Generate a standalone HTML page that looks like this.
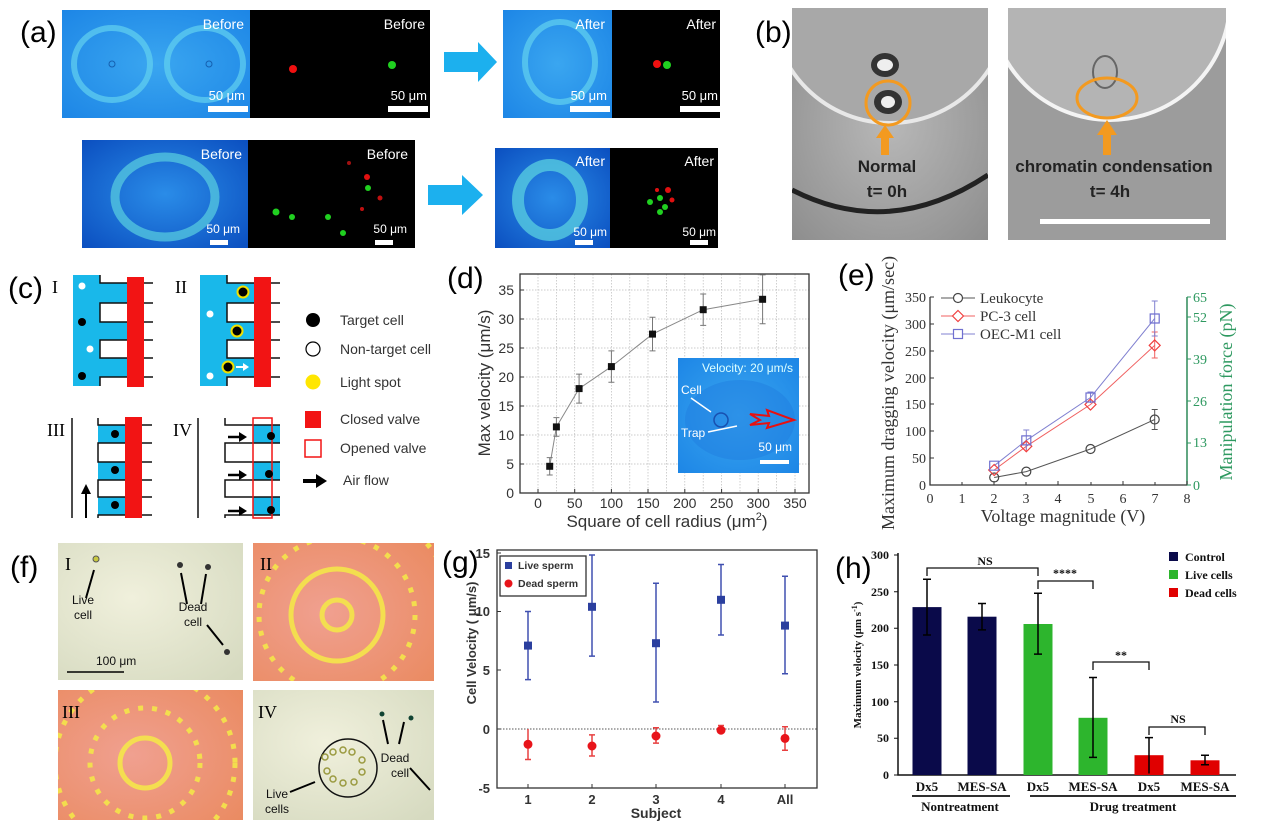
<!DOCTYPE html>
<html><head><meta charset="utf-8"><style>
html,body{margin:0;padding:0;background:#fff;}
svg{display:block;}
text{font-family:"Liberation Sans",sans-serif;}
.ser{font-family:"Liberation Serif",serif;}
</style></head><body>
<svg width="1269" height="831" viewBox="0 0 1269 831" xmlns="http://www.w3.org/2000/svg">
<defs>
<radialGradient id="blu" cx="0.5" cy="0.5" r="0.7"><stop offset="0" stop-color="#3aa6f0"/><stop offset="1" stop-color="#1d86e6"/></radialGradient>
<radialGradient id="blu2" cx="0.5" cy="0.5" r="0.7"><stop offset="0" stop-color="#2a8ce8"/><stop offset="1" stop-color="#0b4fc0"/></radialGradient>
<radialGradient id="gry" cx="0.5" cy="0.5" r="0.7"><stop offset="0" stop-color="#b8b8b8"/><stop offset="1" stop-color="#8e8e8e"/></radialGradient>
<radialGradient id="pale" cx="0.4" cy="0.4" r="0.8"><stop offset="0" stop-color="#f0f0dc"/><stop offset="1" stop-color="#d6dac0"/></radialGradient>
<radialGradient id="ora" cx="0.4" cy="0.5" r="0.8"><stop offset="0" stop-color="#f0a090"/><stop offset="1" stop-color="#ea8a60"/></radialGradient>
<clipPath id="cb1"><rect x="792" y="8" width="196" height="232"/></clipPath>
<clipPath id="cb2"><rect x="1008" y="8" width="218" height="232"/></clipPath>
<clipPath id="cf2"><rect x="253" y="543" width="181" height="138"/></clipPath>
<clipPath id="cf3"><rect x="58" y="690" width="185" height="130"/></clipPath>
</defs>

<!-- (a) -->
<text x="20" y="42" font-size="30">(a)</text>
<rect x="62" y="10" width="188" height="108" fill="url(#blu)"/>
<ellipse cx="112" cy="64" rx="38" ry="36" fill="none" stroke="#62d2f0" stroke-width="6" opacity="0.7"/>
<ellipse cx="205" cy="64" rx="38" ry="36" fill="none" stroke="#62d2f0" stroke-width="6" opacity="0.7"/>
<circle cx="112" cy="64" r="3" fill="none" stroke="#1560b0"/><circle cx="209" cy="64" r="3" fill="none" stroke="#1560b0"/>
<text x="244" y="29" font-size="14" fill="#fff" text-anchor="end">Before</text>
<text x="245" y="100" font-size="13" fill="#fff" text-anchor="end">50 μm</text>
<rect x="208" y="106" width="40" height="6" fill="#fff"/>
<rect x="250" y="10" width="180" height="108" fill="#000"/>
<circle cx="293" cy="69" r="4" fill="#f01010"/><circle cx="392" cy="65" r="4" fill="#20d020"/>
<text x="425" y="29" font-size="14" fill="#fff" text-anchor="end">Before</text>
<text x="427" y="100" font-size="13" fill="#fff" text-anchor="end">50 μm</text>
<rect x="388" y="106" width="40" height="6" fill="#fff"/>
<polygon points="444,52 478,52 478,42 497,62 478,82 478,72 444,72" fill="#1cb0ee"/>
<rect x="503" y="10" width="109" height="108" fill="url(#blu)"/>
<ellipse cx="560" cy="62" rx="35" ry="40" fill="none" stroke="#62d2f0" stroke-width="6" opacity="0.7"/>
<text x="605" y="29" font-size="14" fill="#fff" text-anchor="end">After</text>
<text x="607" y="100" font-size="13" fill="#fff" text-anchor="end">50 μm</text>
<rect x="570" y="106" width="40" height="6" fill="#fff"/>
<rect x="612" y="10" width="108" height="108" fill="#000"/>
<circle cx="657" cy="64" r="4" fill="#f01010"/><circle cx="667" cy="65" r="4" fill="#20d020"/>
<text x="716" y="29" font-size="14" fill="#fff" text-anchor="end">After</text>
<text x="718" y="100" font-size="13" fill="#fff" text-anchor="end">50 μm</text>
<rect x="680" y="106" width="40" height="6" fill="#fff"/>

<rect x="82" y="140" width="166" height="108" fill="url(#blu2)"/>
<ellipse cx="165" cy="197" rx="50" ry="40" fill="none" stroke="#5ad0e0" stroke-width="9" opacity="0.7"/>
<text x="242" y="159" font-size="14" fill="#fff" text-anchor="end">Before</text>
<text x="240" y="233" font-size="12" fill="#fff" text-anchor="end">50 μm</text>
<rect x="210" y="240" width="18" height="5" fill="#fff"/>
<rect x="248" y="140" width="167" height="108" fill="#000"/>
<circle cx="276" cy="212" r="3.5" fill="#20d020"/><circle cx="292" cy="217" r="3" fill="#20d020"/><circle cx="328" cy="217" r="3" fill="#20d020"/><circle cx="343" cy="233" r="3" fill="#20d020"/><circle cx="368" cy="188" r="3" fill="#20d020"/><circle cx="367" cy="177" r="3" fill="#e01010"/><circle cx="349" cy="163" r="2" fill="#a01010"/><circle cx="380" cy="198" r="2.5" fill="#c01010"/><circle cx="362" cy="209" r="2" fill="#c01010"/>
<text x="408" y="159" font-size="14" fill="#fff" text-anchor="end">Before</text>
<text x="407" y="233" font-size="12" fill="#fff" text-anchor="end">50 μm</text>
<rect x="375" y="240" width="18" height="5" fill="#fff"/>
<polygon points="428,185 462,185 462,175 483,195 462,215 462,205 428,205" fill="#1cb0ee"/>
<rect x="495" y="148" width="115" height="100" fill="url(#blu2)"/>
<ellipse cx="550" cy="200" rx="32" ry="35" fill="none" stroke="#5ad0e0" stroke-width="12" opacity="0.75"/>
<text x="605" y="166" font-size="14" fill="#fff" text-anchor="end">After</text>
<text x="607" y="236" font-size="12" fill="#fff" text-anchor="end">50 μm</text>
<rect x="575" y="240" width="18" height="5" fill="#fff"/>
<rect x="610" y="148" width="108" height="100" fill="#000"/>
<circle cx="650" cy="202" r="3" fill="#20d020"/><circle cx="660" cy="198" r="3" fill="#20d020"/><circle cx="665" cy="207" r="3" fill="#20d020"/><circle cx="660" cy="212" r="3" fill="#20d020"/><circle cx="668" cy="190" r="3" fill="#e01010"/><circle cx="672" cy="200" r="2.5" fill="#e01010"/><circle cx="657" cy="190" r="2" fill="#e01010"/>
<text x="714" y="166" font-size="14" fill="#fff" text-anchor="end">After</text>
<text x="716" y="236" font-size="12" fill="#fff" text-anchor="end">50 μm</text>
<rect x="690" y="240" width="18" height="5" fill="#fff"/>

<!-- (b) -->
<text x="755" y="42" font-size="30">(b)</text>
<g clip-path="url(#cb1)">
<rect x="792" y="8" width="196" height="232" fill="url(#gry)"/>
<circle cx="890" cy="5" r="118" fill="#a8a8a8" stroke="#e8e8e8" stroke-width="4"/>
<path d="M792,190 Q890,240 988,175" fill="none" stroke="#222" stroke-width="5"/>
</g>
<ellipse cx="885" cy="65" rx="14" ry="12" fill="#333"/><ellipse cx="885" cy="65" rx="8" ry="6" fill="#eee"/>
<ellipse cx="888" cy="102" rx="14" ry="12" fill="#333"/><ellipse cx="888" cy="102" rx="7" ry="6" fill="#eee"/>
<circle cx="888" cy="103" r="22" fill="none" stroke="#f39a20" stroke-width="3"/>
<polygon points="881,148 881,138 876,138 885,125 894,138 889,138 889,155 881,155" fill="#f39a20"/>
<text x="887" y="172" font-size="17" font-weight="bold" fill="#222" text-anchor="middle">Normal</text>
<text x="887" y="197" font-size="17" font-weight="bold" fill="#222" text-anchor="middle">t= 0h</text>
<g clip-path="url(#cb2)">
<rect x="1008" y="8" width="218" height="232" fill="#9c9c9c"/>
<circle cx="1110" cy="0" r="120" fill="#b4b4b4" stroke="#f4f4f4" stroke-width="4"/>
</g>
<ellipse cx="1105" cy="72" rx="12" ry="16" fill="none" stroke="#666" stroke-width="2"/>
<ellipse cx="1107" cy="98" rx="30" ry="20" fill="none" stroke="#f39a20" stroke-width="3"/>
<polygon points="1103,155 1103,135 1097,135 1107,120 1117,135 1111,135 1111,155" fill="#f39a20"/>
<text x="1114" y="172" font-size="17" font-weight="bold" fill="#222" text-anchor="middle">chromatin condensation</text>
<text x="1110" y="197" font-size="17" font-weight="bold" fill="#222" text-anchor="middle">t= 4h</text>
<rect x="1040" y="219" width="170" height="5" fill="#fff"/>

<!-- (c) -->
<text x="8" y="298" font-size="30">(c)</text>
<text x="52" y="293" font-size="18" class="ser">I</text>
<text x="175" y="293" font-size="18" class="ser">II</text>
<g id="diagI">
<rect x="73" y="275" width="27" height="111" fill="#19b8ea"/>
<rect x="100" y="283" width="27" height="20" fill="#19b8ea"/><rect x="100" y="322" width="27" height="18" fill="#19b8ea"/><rect x="100" y="358" width="27" height="19" fill="#19b8ea"/>
<path d="M100,275 V283 H153 M153,303 H100 V322 H153 M153,340 H100 V358 H153 M153,377 H100 V386" fill="none" stroke="#111" stroke-width="1.5"/>
<rect x="127" y="277" width="17" height="110" fill="#f21414"/>
</g>
<circle cx="82" cy="286" r="3.5" fill="#fff"/><circle cx="90" cy="349" r="3.5" fill="#fff"/><circle cx="82" cy="322" r="4" fill="#000"/><circle cx="82" cy="376" r="4" fill="#000"/>
<use href="#diagI" x="127"/>
<circle cx="210" cy="314" r="3.5" fill="#fff"/><circle cx="210" cy="376" r="3.5" fill="#fff"/>
<circle cx="243" cy="292" r="5.5" fill="#000" stroke="#f0e000" stroke-width="2"/><circle cx="237" cy="331" r="5.5" fill="#000" stroke="#f0e000" stroke-width="2"/><circle cx="228" cy="367" r="5.5" fill="#000" stroke="#f0e000" stroke-width="2"/>
<path d="M236,367 H244" stroke="#fff" stroke-width="2"/><polygon points="243,363 249,367 243,371" fill="#fff"/>
<circle cx="313" cy="320" r="7" fill="#000"/><circle cx="313" cy="349" r="7" fill="#fff" stroke="#000" stroke-width="1.2"/><circle cx="313" cy="382" r="7.5" fill="#ffe600"/>
<rect x="305" y="411" width="16" height="17" fill="#f21414"/><rect x="305" y="440" width="16" height="17" fill="none" stroke="#f21414" stroke-width="1.5"/>
<path d="M303,481 H318" stroke="#000" stroke-width="4"/><polygon points="316,474 327,481 316,488" fill="#000"/>
<g font-size="14" fill="#333"><text x="340" y="325">Target cell</text><text x="340" y="354">Non-target cell</text><text x="340" y="387">Light spot</text><text x="340" y="424">Closed valve</text><text x="340" y="453">Opened valve</text><text x="343" y="485">Air flow</text></g>
<text x="47" y="436" font-size="18" class="ser">III</text>
<text x="173" y="436" font-size="18" class="ser">IV</text>
<path d="M72,418 V518 M198,418 V518" stroke="#111" stroke-width="1.5"/>
<path d="M86,518 V492" stroke="#000" stroke-width="2"/><polygon points="81,494 86,484 91,494" fill="#000"/>
<rect x="98" y="425" width="27" height="18" fill="#19b8ea"/><rect x="98" y="462" width="27" height="18" fill="#19b8ea"/><rect x="98" y="497" width="27" height="18" fill="#19b8ea"/>
<path d="M98,418 V425 H152 M152,443 H98 V462 H152 M152,480 H98 V497 H152 M152,515 H98 V518" fill="none" stroke="#111" stroke-width="1.5"/>
<rect x="125" y="417" width="17" height="101" fill="#f21414"/>
<circle cx="115" cy="434" r="4" fill="#000"/><circle cx="115" cy="470" r="4" fill="#000"/><circle cx="115" cy="505" r="4" fill="#000"/>
<rect x="253" y="425" width="27" height="18" fill="#19b8ea"/><rect x="253" y="462" width="27" height="18" fill="#19b8ea"/><rect x="253" y="497" width="27" height="18" fill="#19b8ea"/>
<path d="M225,418 V425 H280 M280,443 H225 V462 H280 M280,480 H225 V497 H280 M280,515 H225 V518" fill="none" stroke="#111" stroke-width="1.5"/>
<rect x="253" y="418" width="19" height="100" fill="none" stroke="#f21414" stroke-width="1.5"/>
<circle cx="271" cy="436" r="4" fill="#000"/><circle cx="269" cy="474" r="4" fill="#000"/><circle cx="271" cy="510" r="4" fill="#000"/>
<g fill="#000"><path d="M228,437 H240" stroke="#000" stroke-width="2.5"/><polygon points="239,432 247,437 239,442"/><path d="M228,475 H240" stroke="#000" stroke-width="2.5"/><polygon points="239,470 247,475 239,480"/><path d="M228,511 H240" stroke="#000" stroke-width="2.5"/><polygon points="239,506 247,511 239,516"/></g>

<!-- (d) -->
<text x="447" y="288" font-size="30">(d)</text>
<g stroke="#bbb" stroke-width="0.7" stroke-dasharray="1.5,1.5">
<path d="M538,274V493 M556.4,274V493 M574.7,274V493 M593,274V493 M611.4,274V493 M629.8,274V493 M648,274V493 M666.5,274V493 M684.8,274V493 M703.2,274V493 M721.6,274V493 M740,274V493 M758.2,274V493 M776.6,274V493 M795,274V493"/>
<path d="M520,464H809 M520,435H809 M520,406H809 M520,377H809 M520,348H809 M520,319H809 M520,290H809"/>
</g>
<rect x="520" y="274" width="289" height="219" fill="none" stroke="#333" stroke-width="1.3"/>
<g stroke="#333" stroke-width="1">
<path d="M538,493v-4 M574.7,493v-4 M611.4,493v-4 M648,493v-4 M684.8,493v-4 M721.6,493v-4 M758.2,493v-4 M795,493v-4"/>
<path d="M520,464h4 M520,435h4 M520,406h4 M520,377h4 M520,348h4 M520,319h4 M520,290h4"/>
</g>
<g font-size="14" fill="#333" text-anchor="end"><text x="514" y="498">0</text><text x="514" y="469">5</text><text x="514" y="440">10</text><text x="514" y="411">15</text><text x="514" y="382">20</text><text x="514" y="353">25</text><text x="514" y="324">30</text><text x="514" y="295">35</text></g>
<g font-size="14" fill="#333" text-anchor="middle"><text x="538" y="508">0</text><text x="574.7" y="508">50</text><text x="611.4" y="508">100</text><text x="648" y="508">150</text><text x="684.8" y="508">200</text><text x="721.6" y="508">250</text><text x="758.2" y="508">300</text><text x="795" y="508">350</text></g>
<text x="667" y="527" font-size="17" fill="#333" text-anchor="middle">Square of cell radius (μm<tspan font-size="11" dy="-7">2</tspan><tspan dy="7">)</tspan></text>
<text transform="translate(490,383) rotate(-90)" font-size="17" fill="#333" text-anchor="middle">Max velocity (μm/s)</text>
<polyline points="549.7,466.3 556.4,426.9 579.1,388.6 611.4,366.6 652.5,334.1 703.2,309.7 762.6,299.3" fill="none" stroke="#888" stroke-width="1"/>
<g stroke="#777" stroke-width="1">
<path d="M549.7,457.6V475 M546.7,457.6h6 M546.7,475h6"/><path d="M556.4,417.6V436.2 M553.4,417.6h6 M553.4,436.2h6"/><path d="M579.1,374.1V403.1 M576.1,374.1h6 M576.1,403.1h6"/><path d="M611.4,350.9V382.3 M608.4,350.9h6 M608.4,382.3h6"/><path d="M652.5,317.3V350.9 M649.5,317.3h6 M649.5,350.9h6"/><path d="M703.2,294V325.4 M700.2,294h6 M700.2,325.4h6"/><path d="M762.6,274.9V323.7 M759.6,274.9h6 M759.6,323.7h6"/>
</g>
<g fill="#111"><rect x="546.2" y="462.8" width="7" height="7"/><rect x="552.9" y="423.4" width="7" height="7"/><rect x="575.6" y="385.1" width="7" height="7"/><rect x="607.9" y="363.1" width="7" height="7"/><rect x="649" y="330.6" width="7" height="7"/><rect x="699.7" y="306.2" width="7" height="7"/><rect x="759.1" y="295.8" width="7" height="7"/></g>
<rect x="678" y="358" width="121" height="115" fill="url(#blu)"/>
<ellipse cx="740" cy="420" rx="55" ry="40" fill="#1f7ee0" opacity="0.5"/>
<text x="793" y="372" font-size="12" fill="#dff" text-anchor="end">Velocity: 20 μm/s</text>
<text x="681" y="394" font-size="12" fill="#fff">Cell</text><text x="681" y="437" font-size="12" fill="#fff">Trap</text>
<path d="M691,398 L711,412 M708,432 L737,426" stroke="#fff" stroke-width="1.5"/>
<circle cx="721" cy="420" r="7" fill="none" stroke="#1850b0" stroke-width="1.5"/>
<polygon points="750,414 769,416 767,410 794,420 767,428 769,423 750,425 760,420" fill="none" stroke="#e81010" stroke-width="2"/>
<text x="792" y="451" font-size="12" fill="#fff" text-anchor="end">50 μm</text>
<rect x="760" y="460" width="29" height="4" fill="#fff"/>

<!-- (e) -->
<text x="838" y="285" font-size="30">(e)</text>
<path d="M930,297V485H1187V297" fill="none" stroke="#333" stroke-width="1.3"/>
<path d="M1187,297V485" stroke="#2e9960" stroke-width="1.3"/>
<g stroke="#333" stroke-width="1"><path d="M930,485v-4 M962,485v-3 M994,485v-4 M1026,485v-3 M1058,485v-4 M1091,485v-3 M1123,485v-4 M1155,485v-3 M1187,485v-4"/><path d="M930,458h4 M930,431h4 M930,404h4 M930,378h4 M930,351h4 M930,324h4 M930,297h4"/></g>
<g stroke="#2e9960"><path d="M1187,485h4 M1187,443h4 M1187,401h4 M1187,359h4 M1187,317h4 M1187,297h4"/></g>
<g font-size="14" fill="#333" text-anchor="end"><text x="926" y="490" class="ser">0</text><text x="926" y="463" class="ser">50</text><text x="926" y="436" class="ser">100</text><text x="926" y="409" class="ser">150</text><text x="926" y="383" class="ser">200</text><text x="926" y="356" class="ser">250</text><text x="926" y="329" class="ser">300</text><text x="926" y="302" class="ser">350</text></g>
<g font-size="14" fill="#333" text-anchor="middle"><text class="ser" x="930" y="503">0</text><text class="ser" x="962" y="503">1</text><text class="ser" x="994" y="503">2</text><text class="ser" x="1026" y="503">3</text><text class="ser" x="1058" y="503">4</text><text class="ser" x="1091" y="503">5</text><text class="ser" x="1123" y="503">6</text><text class="ser" x="1155" y="503">7</text><text class="ser" x="1187" y="503">8</text></g>
<g font-size="14" fill="#2e9960"><text class="ser" x="1193" y="490">0</text><text class="ser" x="1193" y="447">13</text><text class="ser" x="1193" y="406">26</text><text class="ser" x="1193" y="364">39</text><text class="ser" x="1193" y="322">52</text><text class="ser" x="1193" y="302">65</text></g>
<text class="ser" x="1063" y="522" font-size="18" fill="#333" text-anchor="middle">Voltage magnitude (V)</text>
<text class="ser" transform="translate(894,393) rotate(-90)" font-size="18" fill="#333" text-anchor="middle">Maximum dragging velocity (μm/sec)</text>
<text class="ser" transform="translate(1232,392) rotate(-90)" font-size="18" fill="#2e9960" text-anchor="middle">Manipulation force (pN)</text>
<polyline points="994.2,477.5 1026.3,471.6 1090.5,449 1154.7,419.5" fill="none" stroke="#555" stroke-width="1"/>
<polyline points="994.2,470 1026.3,446.3 1090.5,404.5 1154.7,345.4" fill="none" stroke="#f06060" stroke-width="1"/>
<polyline points="994.2,465.7 1026.3,440.4 1090.5,397.5 1154.7,318.5" fill="none" stroke="#8080d0" stroke-width="1"/>
<path d="M1154.7,409.5V429.5 M1151.7,409.5h6 M1151.7,429.5h6" stroke="#555"/>
<path d="M1154.7,332V358 M1151.7,332h6 M1151.7,358h6 M1026.3,440V452" stroke="#f06060"/>
<path d="M1154.7,301V336 M1151.7,301h6 M1151.7,336h6 M1026.3,430V450 M1023.3,430h6 M1090.5,392V403 M1087.5,392h6" stroke="#8080d0"/>
<g fill="none" stroke-width="1.2">
<circle cx="994.2" cy="477.5" r="4.5" stroke="#444"/><circle cx="1026.3" cy="471.6" r="4.5" stroke="#444"/><circle cx="1090.5" cy="449" r="4.5" stroke="#444"/><circle cx="1154.7" cy="419.5" r="4.5" stroke="#444"/>
<path d="M994.2,464.5l5.5,5.5l-5.5,5.5l-5.5,-5.5z M1026.3,440.8l5.5,5.5l-5.5,5.5l-5.5,-5.5z M1090.5,399l5.5,5.5l-5.5,5.5l-5.5,-5.5z M1154.7,339.9l5.5,5.5l-5.5,5.5l-5.5,-5.5z" stroke="#f04040"/>
<path d="M989.7,461.2h9v9h-9z M1021.8,435.9h9v9h-9z M1086,393h9v9h-9z M1150.2,314h9v9h-9z" stroke="#7070d0"/>
</g>
<path d="M941,298H975" stroke="#555"/><circle cx="958" cy="298" r="4.5" fill="#fff" stroke="#444" stroke-width="1.2"/>
<path d="M941,316H975" stroke="#f06060"/><path d="M958,310.5l5.5,5.5l-5.5,5.5l-5.5,-5.5z" fill="#fff" stroke="#f04040" stroke-width="1.2"/>
<path d="M941,334H975" stroke="#8080d0"/><rect x="953.5" y="329.5" width="9" height="9" fill="#fff" stroke="#7070d0" stroke-width="1.2"/>
<g font-size="15" fill="#333"><text class="ser" x="980" y="303">Leukocyte</text><text class="ser" x="980" y="321">PC-3 cell</text><text class="ser" x="980" y="339">OEC-M1 cell</text></g>

<!-- (f) -->
<text x="10" y="577" font-size="30">(f)</text>
<rect x="58" y="543" width="185" height="137" fill="url(#pale)"/>
<rect x="253" y="690" width="181" height="130" fill="url(#pale)"/>
<g clip-path="url(#cf2)">
<rect x="253" y="543" width="181" height="138" fill="url(#ora)"/>
<g fill="none" stroke="#f4e64a" stroke-width="5" opacity="0.9"><circle cx="337" cy="615" r="46"/><circle cx="337" cy="615" r="15"/></g>
<g fill="none" stroke="#f4e64a" stroke-width="5" stroke-dasharray="5,9" opacity="0.9"><circle cx="337" cy="615" r="78"/><circle cx="337" cy="620" r="118"/></g>
</g>
<g clip-path="url(#cf3)">
<rect x="58" y="690" width="185" height="130" fill="url(#ora)"/>
<circle cx="145" cy="763" r="25" fill="none" stroke="#f4e64a" stroke-width="5" opacity="0.9"/>
<g fill="none" stroke="#f4e64a" stroke-width="5" stroke-dasharray="5,9" opacity="0.9"><circle cx="145" cy="763" r="55"/><circle cx="145" cy="763" r="90"/></g>
</g>
<text x="65" y="570" font-size="18" class="ser">I</text><text x="260" y="570" font-size="18" class="ser">II</text>
<text x="62" y="718" font-size="18" class="ser">III</text><text x="258" y="718" font-size="18" class="ser">IV</text>
<circle cx="96" cy="559" r="3" fill="#c8c840" stroke="#555"/><circle cx="180" cy="565" r="3" fill="#333"/><circle cx="208" cy="567" r="3" fill="#333"/><circle cx="227" cy="652" r="3" fill="#333"/>
<g stroke="#000" stroke-width="2"><path d="M86,598 L94,570 M187,604 L181,573 M201,604 L206,574 M207,625 L223,645"/></g>
<g font-size="12" fill="#111" text-anchor="middle"><text x="83" y="604">Live</text><text x="83" y="619">cell</text><text x="193" y="611">Dead</text><text x="193" y="626">cell</text><text x="277" y="798">Live</text><text x="277" y="813">cells</text><text x="395" y="762">Dead</text><text x="400" y="777">cell</text></g>
<text x="96" y="665" font-size="12" fill="#111">100 μm</text><path d="M67,672H124" stroke="#000" stroke-width="1.5"/>
<circle cx="348" cy="768" r="29" fill="none" stroke="#111" stroke-width="1.5"/>
<g fill="none" stroke="#9a9a40" stroke-width="1.5"><circle cx="325" cy="757" r="3"/><circle cx="333" cy="752" r="3"/><circle cx="343" cy="750" r="3"/><circle cx="352" cy="752" r="3"/><circle cx="362" cy="760" r="3"/><circle cx="362" cy="772" r="3"/><circle cx="354" cy="782" r="3"/><circle cx="343" cy="783" r="3"/><circle cx="333" cy="779" r="3"/><circle cx="327" cy="771" r="3"/></g>
<g stroke="#000" stroke-width="2"><path d="M290,792 L315,782 M388,744 L383,720 M399,744 L404,722 M410,768 L430,790"/></g>
<circle cx="382" cy="714" r="2.5" fill="#143"/><circle cx="411" cy="718" r="2.5" fill="#143"/>

<!-- (g) -->
<text x="442" y="572" font-size="30">(g)</text>
<rect x="497" y="550" width="320" height="238" fill="none" stroke="#333" stroke-width="1.3"/>
<path d="M497,729H817" stroke="#555" stroke-dasharray="1.5,1.5"/>
<g stroke="#333"><path d="M497,553h4 M497,611.5h4 M497,670h4 M497,729h4 M528,788v-4 M592,788v-4 M656,788v-4 M721,788v-4 M785,788v-4"/></g>
<g font-size="13" font-weight="bold" fill="#333" text-anchor="end"><text x="490" y="558">15</text><text x="490" y="616">10</text><text x="490" y="675">5</text><text x="490" y="734">0</text><text x="490" y="793">-5</text></g>
<g font-size="13" font-weight="bold" fill="#333" text-anchor="middle"><text x="528" y="804">1</text><text x="592" y="804">2</text><text x="656" y="804">3</text><text x="721" y="804">4</text><text x="785" y="804">All</text></g>
<text x="656" y="818" font-size="14" font-weight="bold" fill="#333" text-anchor="middle">Subject</text>
<text transform="translate(476,643) rotate(-90)" font-size="13" font-weight="bold" fill="#333" text-anchor="middle">Cell Velocity ( μm/s)</text>
<g stroke="#4050b0" stroke-width="1.5"><path d="M528,611.5V679.6 M525,611.5h6 M525,679.6h6 M592,555V656.1 M589,555h6 M589,656.1h6 M656,583.3V702 M653,583.3h6 M653,702h6 M721,564.5V635 M718,564.5h6 M718,635h6 M785,576.3V673.8 M782,576.3h6 M782,673.8h6"/></g>
<g fill="#2b3f9e"><rect x="524" y="641.6" width="8" height="8"/><rect x="588" y="602.8" width="8" height="8"/><rect x="652" y="639.2" width="8" height="8"/><rect x="717" y="595.8" width="8" height="8"/><rect x="781" y="621.6" width="8" height="8"/></g>
<g stroke="#e84040" stroke-width="1.5"><path d="M528,729V759.5 M525,759.5h6 M592,734.9V756 M589,734.9h6 M589,756h6 M656,727.8V743.1 M653,727.8h6 M653,743.1h6 M721,725.5V733 M718,725.5h6 M785,726.7V750.2 M782,726.7h6 M782,750.2h6"/></g>
<g fill="#e8141a"><circle cx="528" cy="744.3" r="4.5"/><circle cx="592" cy="746" r="4.5"/><circle cx="656" cy="736" r="4.5"/><circle cx="721" cy="730.2" r="4.5"/><circle cx="785" cy="738.4" r="4.5"/></g>
<rect x="500" y="556" width="86" height="40" fill="#fff" stroke="#333" stroke-width="1.3"/>
<rect x="505" y="562" width="7" height="7" fill="#2b3f9e"/><circle cx="508.5" cy="583.5" r="4" fill="#e8141a"/>
<g font-size="10.5" font-weight="bold" fill="#333"><text x="518" y="569">Live sperm</text><text x="518" y="587">Dead sperm</text></g>

<!-- (h) -->
<text x="835" y="578" font-size="30">(h)</text>
<path d="M898,553V775H1236" fill="none" stroke="#111" stroke-width="1.5"/>
<g stroke="#111"><path d="M898,555h-4 M898,591.7h-4 M898,628.3h-4 M898,665h-4 M898,701.7h-4 M898,738.3h-4 M898,775h-4"/></g>
<g font-size="12" font-weight="bold" fill="#111" text-anchor="end"><text class="ser" x="889" y="559">300</text><text class="ser" x="889" y="596">250</text><text class="ser" x="889" y="632">200</text><text class="ser" x="889" y="669">150</text><text class="ser" x="889" y="706">100</text><text class="ser" x="889" y="742">50</text><text class="ser" x="889" y="779">0</text></g>
<text class="ser" transform="translate(861,665) rotate(-90)" font-size="11" font-weight="bold" fill="#111" text-anchor="middle">Maximum velocity (μm s<tspan font-size="8" dy="-4">-1</tspan><tspan dy="4">)</tspan></text>
<rect x="912.5" y="607.1" width="29" height="167.9" fill="#0a0a4a"/>
<rect x="967.5" y="616.7" width="29" height="158.3" fill="#0a0a4a"/>
<rect x="1023.5" y="624" width="29" height="151" fill="#2db52d"/>
<rect x="1078.5" y="717.8" width="29" height="57.2" fill="#2db52d"/>
<rect x="1134.5" y="755.2" width="29" height="19.8" fill="#e00000"/>
<rect x="1190.5" y="760.3" width="29" height="14.7" fill="#e00000"/>
<g stroke="#000" stroke-width="1.5"><path d="M927,579.3V635 M923,579.3h8 M923,635h8 M982,603.5V629.9 M978,603.5h8 M978,629.9h8 M1038,593.2V654.1 M1034,593.2h8 M1034,654.1h8 M1093,677.5V757.4 M1089,677.5h8 M1089,757.4h8 M1149,737.6V773.5 M1145,737.6h8 M1205,755.2V764.7 M1201,755.2h8 M1201,764.7h8"/></g>
<g fill="none" stroke="#111" stroke-width="1.3"><path d="M927,576V568H1038V576 M1038,589V581H1093V589 M1093,670V662H1149V670 M1149,735V727H1205V735"/></g>
<g font-size="12" font-weight="bold" fill="#111" text-anchor="middle"><text class="ser" x="985" y="565">NS</text><text class="ser" x="1065" y="577">****</text><text class="ser" x="1121" y="659">**</text><text class="ser" x="1178" y="723">NS</text></g>
<g font-size="13" font-weight="bold" fill="#111" text-anchor="middle"><text class="ser" x="927" y="791">Dx5</text><text class="ser" x="982" y="791">MES-SA</text><text class="ser" x="1038" y="791">Dx5</text><text class="ser" x="1093" y="791">MES-SA</text><text class="ser" x="1149" y="791">Dx5</text><text class="ser" x="1205" y="791">MES-SA</text><text class="ser" x="960" y="811">Nontreatment</text><text class="ser" x="1133" y="811">Drug treatment</text></g>
<path d="M912,796H1010 M1030,796H1236" stroke="#111" stroke-width="1.8"/>
<rect x="1169" y="552" width="9" height="9" fill="#0a0a4a"/><rect x="1169" y="570" width="9" height="9" fill="#2db52d"/><rect x="1169" y="588" width="9" height="9" fill="#e00000"/>
<g font-size="12" font-weight="bold" fill="#111"><text class="ser" x="1185" y="561">Control</text><text class="ser" x="1185" y="579">Live cells</text><text class="ser" x="1185" y="597">Dead cells</text></g>
</svg>
</body></html>
